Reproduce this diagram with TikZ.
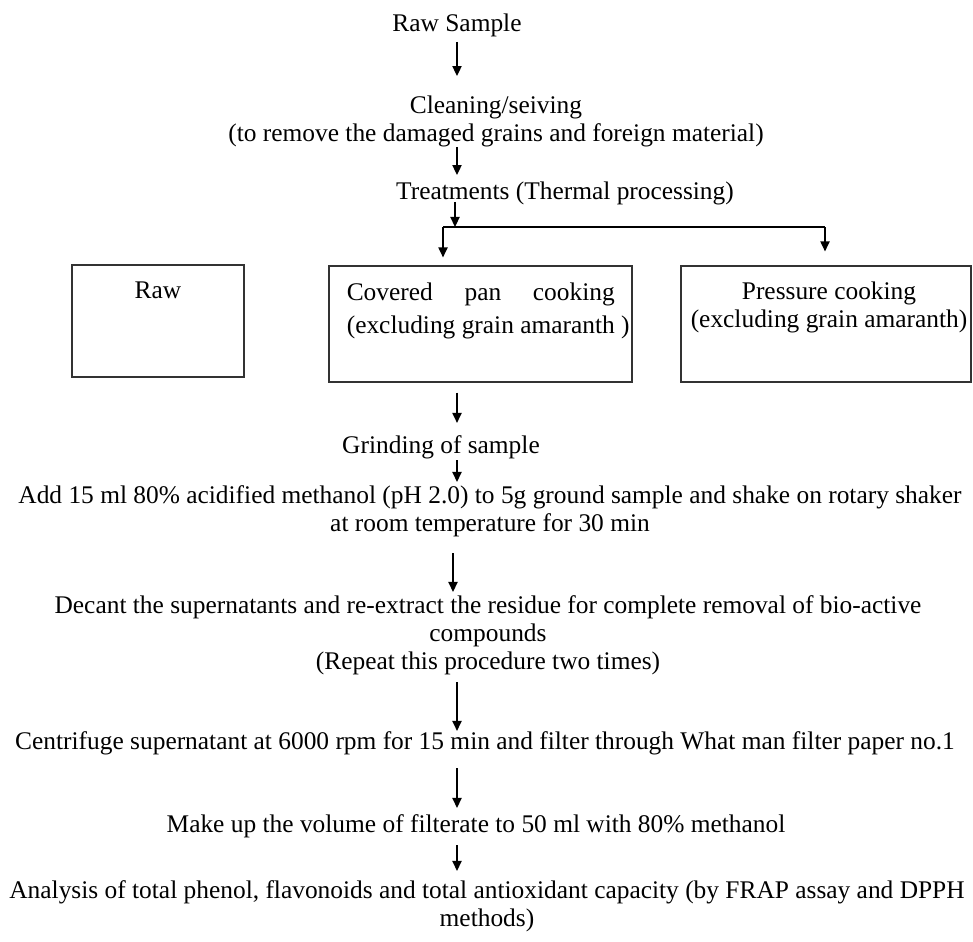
\documentclass[tikz,border=0pt]{standalone}
\usepackage{fontspec}
\setmainfont{Liberation Serif}
\usetikzlibrary{arrows.meta, positioning, calc}

\begin{document}
\begin{tikzpicture}[
        x=0.5pt, y=-0.5pt,
        >={Triangle[width=4.6pt,length=5pt]},
        font=\fontsize{12.7}{14}\selectfont,
        txt/.style={inner sep=0pt, align=center},
        box/.style={rectangle, draw=black!80, line width=0.6pt, inner sep=0pt},
        flow/.style={->, line width=0.7pt}
    ]
    \useasboundingbox (0,0) rectangle (973,941);
    \coordinate (spine) at (457,0);

    % --- Preparation ---
    \node[txt] (raws) at (457,25) {Raw Sample};
    \node[txt] (clean) at (496,121) {Cleaning/seiving\\(to remove the damaged grains and foreign material)};
    \node[txt] (treat) at (565,193) {Treatments (Thermal processing)};

    \draw[flow, shorten <=2.5pt, shorten >=9.5pt] (raws.south -| spine) -- (clean.north -| spine);
    \draw[flow, shorten >=3pt] (clean.south -| spine) -- (treat.north -| spine);

    % --- Treatment boxes ---
    \node[box, minimum width=86pt, minimum height=56pt] (rawbox) at (158,321) {};
    \node[box, minimum width=151.5pt, minimum height=58pt] (panbox) at (480.5,324) {};
    \node[box, minimum width=145pt, minimum height=58pt] (presbox) at (826,324) {};

    \node[txt, below=8.5pt of rawbox.north] (rawlbl) {Raw};
    \node[txt, align=left, below right=8.5pt and 9pt of panbox.north west] (panlbl)
        {\makebox[134pt][s]{Covered pan cooking}\\[2.5pt](excluding grain amaranth )};
    \node[txt, below=8pt of presbox.north, xshift=1.5pt] (preslbl) {Pressure cooking\\(excluding grain amaranth)};

    % --- Branching ---
    \coordinate (fork) at (455,227);
    \coordinate (forkL) at (443,227);
    \coordinate (forkR) at (825,227);
    \draw[flow, shorten <=-1.5pt] (treat.south -| fork) -- (fork);
    \draw[line width=0.7pt] (forkL) -- (forkR);
    \draw[flow, shorten >=4pt] (forkL) -- (panbox.north -| forkL);
    \draw[flow, shorten >=7pt] (forkR) -- (presbox.north -| forkR);

    % --- Extraction ---
    \node[txt] (grind) at (441,447) {Grinding of sample};
    \node[txt] (add) at (490,511) {Add 15 ml 80\% acidified methanol (pH 2.0) to 5g ground sample and shake on rotary shaker\\at room temperature for 30 min};
    \node[txt] (decant) at (488,635) {Decant the supernatants and re-extract the residue for complete removal of bio-active\\compounds\\(Repeat this procedure two times)};
    \node[txt] (centri) at (485,743) {Centrifuge supernatant at 6000 rpm for 15 min and filter through What man filter paper no.1};
    \node[txt] (makeup) at (476,826) {Make up the volume of filterate to 50 ml with 80\% methanol};
    \node[txt] (analysis) at (487,906) {Analysis of total phenol, flavonoids and total antioxidant capacity (by FRAP assay and DPPH\\methods)};

    \draw[flow, shorten <=5pt, shorten >=6pt] (panbox.south -| spine) -- (grind.north -| spine);
    \draw[flow, shorten <=0.5pt, shorten >=1.5pt] (grind.south -| spine) -- (add.north -| spine);
    \draw[flow, shorten <=8pt, shorten >=1.5pt] (add.south -| 453,0) -- (decant.north -| 453,0);
    \draw[flow, shorten <=3.5pt] (decant.south -| spine) -- (centri.north -| spine);
    \draw[flow, shorten <=6.5pt, shorten >=3pt] (centri.south -| spine) -- (makeup.north -| spine);
    \draw[flow, shorten <=3.5pt, shorten >=4.5pt] (makeup.south -| spine) -- (analysis.north -| spine);
\end{tikzpicture}
\end{document}
